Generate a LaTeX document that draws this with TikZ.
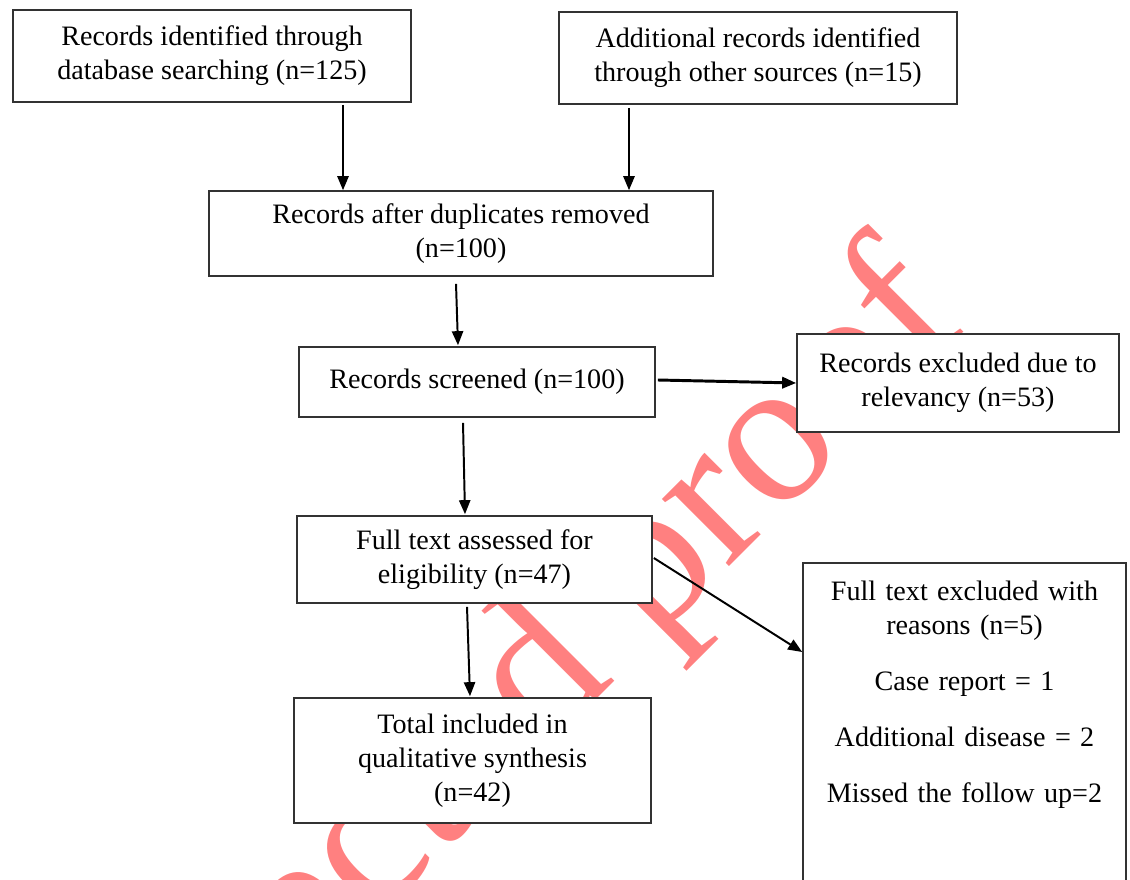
\documentclass[tikz,border=0pt]{standalone}
\usepackage{fontspec}
\setmainfont{Liberation Serif}
\usepackage{tikz}
\usetikzlibrary{arrows.meta, positioning, calc}
\definecolor{wmred}{RGB}{255,128,128}
\definecolor{boxline}{RGB}{50,50,50}

\begin{document}
\begin{tikzpicture}[x=0.025cm,y=-0.025cm,>={Triangle[length=10pt,width=8pt]},
  box/.style={draw=boxline, line width=1.1pt, fill=white, align=center, inner sep=0pt, font=\fontsize{20}{24.2}\selectfont},
  arr/.style={->, line width=1.4pt}]
\useasboundingbox (0,0) rectangle (1130,880);
% Watermark
\node [wmred, rotate=45, anchor=base east, inner sep=0pt, font=\fontsize{147}{147}\selectfont] (wm) at (970,326) {Uncorrected proof};
% The boxes
\node [box, minimum width=9.95cm, minimum height=2.3cm] (db) at (212,56) {Records identified through\\database searching (n=125)};
\node [box, minimum width=9.95cm, minimum height=2.3cm] (other) at (758,58) {Additional records identified\\through other sources (n=15)};
\node [box, minimum width=12.6cm, minimum height=2.125cm] (dup) at (461,233.5) {Records after duplicates removed\\(n=100)};
\node [box, minimum width=8.9cm, minimum height=1.75cm] (screen) at (477,382) {Records screened (n=100)};
\node [box, minimum width=8.05cm, minimum height=2.45cm] (excl) at (958,383) {Records excluded due to\\relevancy (n=53)};
\node [box, minimum width=8.875cm, minimum height=2.175cm] (full) at (474.5,559.5) {Full text assessed for\\eligibility (n=47)};
\node [box, anchor=north, text width=8.075cm, text height=0.95cm, text depth=7.4cm] (fexcl) at (964.5,562) {Full text excluded with\\reasons (n=5)\\[0.55cm]Case report = 1\\[0.55cm]Additional disease = 2\\[0.55cm]Missed the follow up=2};
\node [box, minimum width=8.925cm, minimum height=3.125cm] (incl) at (472.5,760.5) {Total included in\\qualitative synthesis\\(n=42)};
% Arrows
\draw [arr] ($(db.south)+(131,2)$) coordinate (a1) -- (a1 |- dup.north);
\draw [arr] ($(other.south)+(-129,3)$) coordinate (a2) -- (a2 |- dup.north);
\draw [arr] ($(dup.south)+(-5,7)$) -- ($(screen.north)+(-19,-1)$);
\draw [arr] ($(screen.south)+(-14,5)$) -- ($(full.north)+(-9.5,-1)$);
\draw [arr] ($(full.south)+(-7.5,3)$) -- ($(incl.north)+(-2.5,-1)$);
\draw [arr, line width=2.1pt] ($(screen.east)+(2,-2)$) -- (excl.west);
\draw [arr] ($(full.east)+(1,-1.5)$) -- ($(fexcl.north west)+(0,90)$);
\end{tikzpicture}
\end{document}
